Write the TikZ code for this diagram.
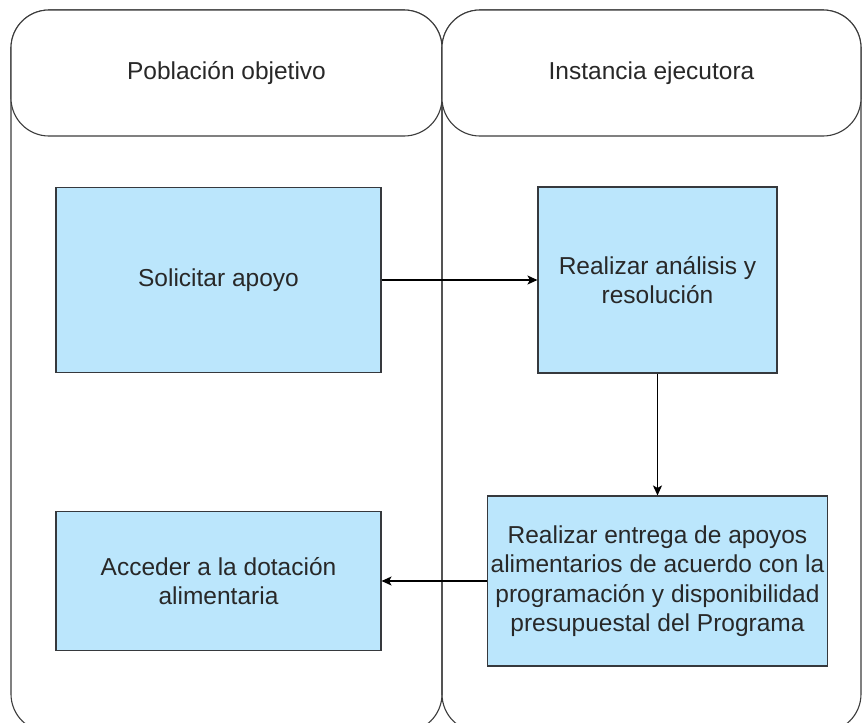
\documentclass[tikz,border=0pt]{standalone}
\usepackage{fontspec}
\setmainfont{Liberation Sans}
\usetikzlibrary{arrows, arrows.meta, shapes, positioning}

\definecolor{boxblue}{RGB}{187,230,252}
\definecolor{boxline}{RGB}{54,57,61}
\definecolor{laneline}{RGB}{60,60,60}
\definecolor{textgray}{RGB}{40,40,40}

\begin{document}
\begin{tikzpicture}[x=1pt, y=1pt,
		  % Define the style of the swimlanes
		  lane/.style={draw=laneline, line width=1.1pt, rounded corners=38pt, minimum height=722pt, inner sep=0pt},
		  % Define the style of the lane titles
		  header/.style={lane, fill=white, minimum height=126pt, text=textgray, font=\fontsize{24.5}{29.5}\selectfont},
		  % Define the style of the process boxes
		  process/.style={rectangle, draw=boxline, line width=1.1pt, fill=boxblue, inner sep=0pt, align=center, text=textgray, font=\fontsize{24.5}{29.5}\selectfont},
		  % Define the style of the arrow between nodes
		  arrow/.style={->, >={Stealth[length=10pt, width=9pt, inset=2.5pt]}, line width=1.5pt, black}
		  ]

		  \clip (0, 0) rectangle (863, -723);

		  % Swimlanes and their titles
		  \foreach \name/\x/\w/\title in {poblacion/226.5/431/Población objetivo, instancia/651.5/419/Instancia ejecutora} {
		    \node[lane, minimum width=\w pt] (lane\name) at (\x, -371) {};
		    \node[header, minimum width=\w pt] (head\name) at (\x, -73) {\title};
		  }

		  % Process boxes
		  \node[process, minimum width=325pt, minimum height=185pt] (solicitar) at (218.5, -280) {Solicitar apoyo};
		  \node[process, minimum width=239pt, minimum height=186pt] (analisis) at (657.5, -280) {Realizar análisis y\\resolución};
		  \node[process, minimum width=340pt, minimum height=170pt] (entrega) at (657.5, -581) {Realizar entrega de apoyos\\alimentarios de acuerdo con la\\programación y disponibilidad\\presupuestal del Programa};
		  \node[process, minimum width=325pt, minimum height=139pt] (acceder) at (218.5, -581) {Acceder a la dotación\\alimentaria};

		  % Connect the nodes
		  \draw[arrow] (solicitar) -- (analisis);
		  \draw[arrow] (analisis) -- (entrega);
		  \draw[arrow] (entrega) -- (acceder);
    \end{tikzpicture}
\end{document}
